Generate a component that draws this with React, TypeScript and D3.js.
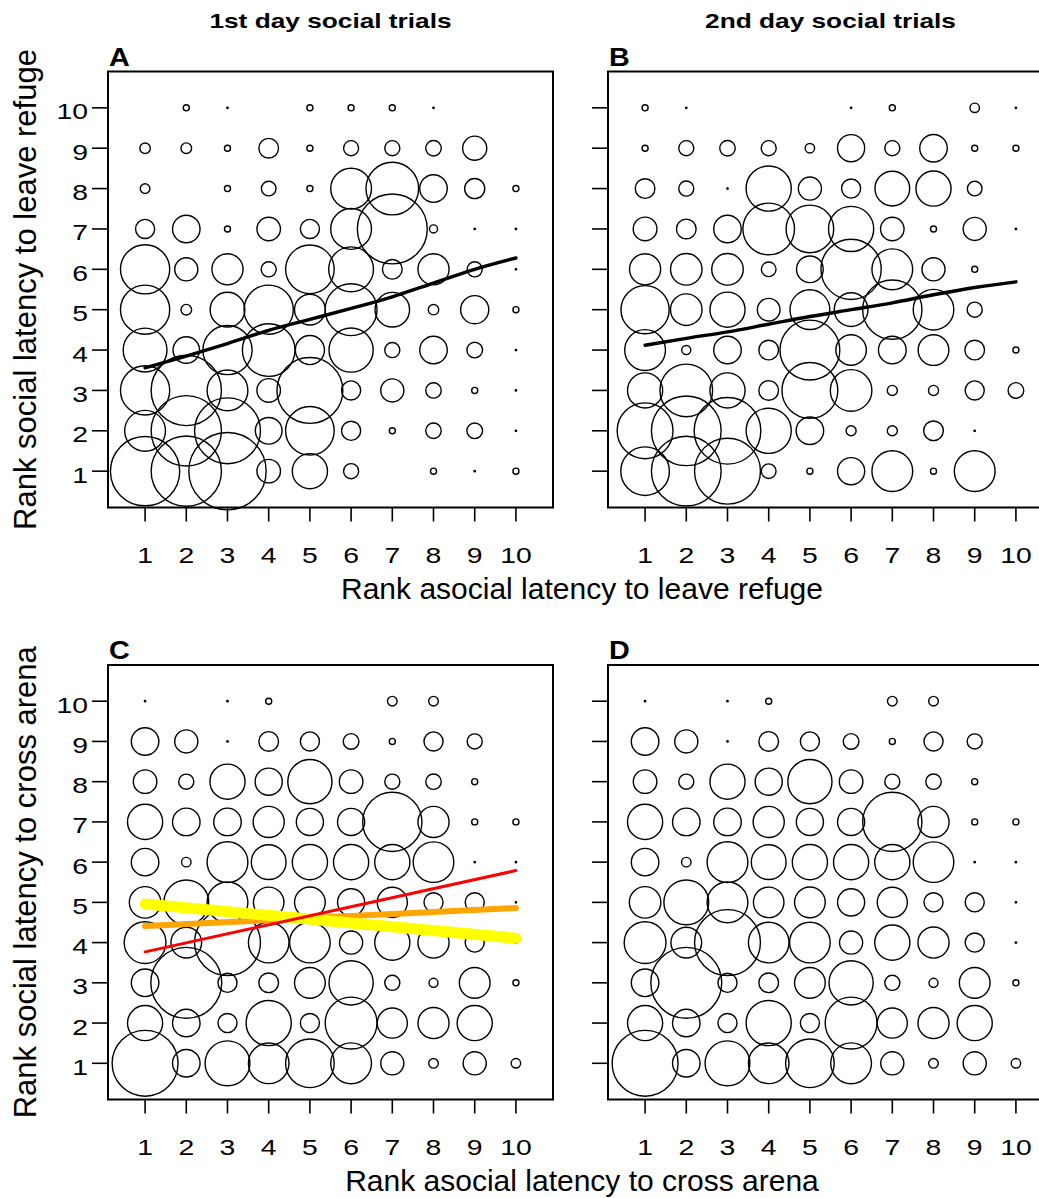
import React from "react";
import * as d3 from "d3";

// ---------- data ----------
const ranks = [1, 2, 3, 4, 5, 6, 7, 8, 9, 10];
const tickLabels = ["1", "2", "3", "4", "5", "6", "7", "8", "9", "10"];

// bubble magnitudes, rows listed from social rank 10 (top) down to 1 (bottom),
// columns asocial rank 1..10 ; 0 = no bubble
const bubblesA = [
  [0, 3.5, 1.2, 0, 3.5, 3.5, 3.5, 1.2, 0, 0],
  [5.7, 5.8, 3.5, 10.3, 3.5, 8, 8, 8.2, 12.5, 0],
  [5.3, 0, 3.5, 7.8, 3.5, 20.8, 26.7, 14.2, 10.5, 3.5],
  [10, 14.2, 3.5, 12.2, 10, 20.8, 35.3, 4.5, 1.2, 1.2],
  [25, 12, 16, 8, 24.7, 22.8, 10.3, 16, 8, 1.2],
  [25, 5.8, 17.8, 25, 15.8, 26.3, 17.7, 5.7, 14.5, 3.5],
  [22.3, 13.7, 25, 26.7, 15, 22.5, 8, 14.2, 8.3, 1.2],
  [25, 35.5, 20.8, 12.2, 33.3, 10, 12, 8.2, 3.5, 1.2],
  [20.8, 35.5, 33.3, 13.8, 24.7, 10, 3.5, 8.2, 8.3, 1.2],
  [35, 35.5, 39, 12.2, 18, 8, 0, 3.5, 1.2, 3.5],
];

const bubblesB = [
  [3.5, 1.2, 0, 0, 0, 1.2, 3.5, 0, 5.2, 1.2],
  [3.5, 8, 8.2, 8, 5.2, 14, 8, 14.2, 3.5, 3.5],
  [10.3, 8, 1.2, 23, 12, 10, 17.8, 18, 7.8, 0],
  [12.3, 10.3, 14.2, 26.2, 24.2, 23, 12.2, 3.5, 12, 1.2],
  [16, 16.2, 16.2, 7.8, 13.8, 30.5, 20.8, 12, 3.5, 0],
  [24.5, 16.2, 18, 11.8, 20.3, 17.3, 30, 20.7, 8, 0],
  [20.8, 5, 14.2, 10.3, 30.3, 15.7, 14.3, 15.8, 10.3, 3.5],
  [18, 26.7, 18, 10.3, 28.3, 21.2, 5.5, 5.5, 10, 8.3],
  [28.3, 35.2, 33.7, 23, 14.2, 5.5, 5.5, 10.3, 1.2, 0],
  [24.7, 35.2, 33.3, 7.8, 3.5, 14, 20.8, 3.5, 20.8, 0],
];

const bubblesCross = [
  [1.2, 0, 1.2, 3.5, 0, 0, 5.3, 5.3, 0, 0],
  [14.2, 12, 1.2, 10.3, 10, 8.3, 3.5, 10, 8, 0],
  [12.2, 8, 18, 14, 22.5, 12.2, 8, 8.2, 3.5, 0],
  [18, 14.2, 14.2, 16, 14, 14, 30, 16, 3.5, 3.5],
  [14.2, 5.2, 20.8, 17.8, 18, 18, 18, 20.7, 1.2, 1.2],
  [16.2, 22.8, 20.8, 15.7, 15.8, 14, 15.5, 10, 10, 1.2],
  [21.3, 15.8, 33.3, 20.7, 20.7, 12, 18, 16, 10, 1.2],
  [14.2, 35.8, 10, 10.3, 15.8, 22.5, 8, 5, 15.8, 3.5],
  [18, 14.2, 10, 23, 10, 26.3, 15.5, 16, 18, 0],
  [33.3, 14.2, 22.8, 20.7, 24.7, 20.8, 12, 5.3, 12, 5.2],
];

// fitted lines (social rank at asocial rank 1..10)
const fitA = [3.56, 3.85, 4.16, 4.49, 4.76, 5.03, 5.32, 5.66, 6.0, 6.28];
const fitB = [4.12, 4.29, 4.45, 4.64, 4.83, 5.0, 5.17, 5.37, 5.55, 5.69];
const fitCx = [1, 10];
const fitCred = [3.77, 5.79];
const fitCorange = [4.41, 4.86];
const fitCyellow = [4.96, 4.11];

const titles = ["1st day social trials", "2nd day social trials"];
const letters = ["A", "B", "C", "D"];
const xLabels = ["Rank asocial latency to leave refuge", "Rank asocial latency to cross arena"];
const yLabels = ["Rank social latency to leave refuge", "Rank social latency to cross arena"];

// ---------- layout ----------
const W = 1039;
const H = 1198;
const colX = [
  [108, 553],
  [608, 1053],
];
const rowY = [
  [507.5, 71.5],
  [1099.5, 665],
];
const domain: [number, number] = [0.1, 10.9];
const FONT = "'Liberation Sans', Arial, Helvetica, sans-serif";

type Fit = { xs: number[]; ys: number[]; color: string; width: number; curve?: boolean };

function Panel({
  col,
  row,
  data,
  fits,
  letter,
  yTickLabels,
}: {
  col: number;
  row: number;
  data: number[][];
  fits: Fit[];
  letter: string;
  yTickLabels: boolean;
}) {
  const x = d3.scaleLinear().domain(domain).range(colX[col]);
  const y = d3.scaleLinear().domain(domain).range(rowY[row]);
  const step = x(2) - x(1);
  const rScale = d3.scaleLinear().domain([0, 40]).range([0, step * 0.975]);
  const [x0, x1] = colX[col];
  const [yb, yt] = rowY[row];

  const cells: { cx: number; cy: number; r: number; key: string }[] = [];
  data.forEach((rowVals, i) => {
    const social = ranks[ranks.length - 1 - i];
    rowVals.forEach((v, j) => {
      if (v > 0) {
        cells.push({ cx: x(ranks[j]), cy: y(social), r: rScale(v), key: `${i}-${j}` });
      }
    });
  });

  return (
    <g>
      {cells.map((c) => (
        <circle
          key={c.key}
          cx={c.cx}
          cy={c.cy}
          r={Math.max(c.r - 0.5, 0.7)}
          fill={c.r < 2 ? "#000" : "none"}
          stroke="#000"
          strokeWidth={1.4}
        />
      ))}
      {fits.map((f, k) => {
        const line = d3
          .line<number>()
          .x((_, i) => x(f.xs[i]))
          .y((d) => y(d))
          .curve(f.curve ? d3.curveMonotoneX : d3.curveLinear);
        return (
          <path
            key={k}
            d={line(f.ys) || ""}
            fill="none"
            stroke={f.color}
            strokeWidth={f.width}
            strokeLinecap="round"
            strokeLinejoin="round"
          />
        );
      })}
      <rect x={x0} y={yt} width={x1 - x0} height={yb - yt} fill="none" stroke="#000" strokeWidth={2} />
      {ranks.map((t, i) => (
        <g key={"xt" + i}>
          <line x1={x(t)} x2={x(t)} y1={yb} y2={yb + 14} stroke="#000" strokeWidth={1.6} />
          <text
            transform={`translate(${x(t)},${yb + 55}) scale(1.32,1)`}
            textAnchor="middle"
            fontFamily={FONT}
            fontSize={21.5}
          >
            {tickLabels[i]}
          </text>
        </g>
      ))}
      {ranks.map((t, i) => (
        <g key={"yt" + i}>
          <line x1={x0 - 16} x2={x0} y1={y(t)} y2={y(t)} stroke="#000" strokeWidth={1.6} />
          {yTickLabels && (
            <text
              transform={`translate(${x0 - 20},${y(t) + 11.5}) scale(1.32,1)`}
              textAnchor="end"
              fontFamily={FONT}
              fontSize={21.5}
            >
              {tickLabels[i]}
            </text>
          )}
        </g>
      ))}
      <text
        transform={`translate(${x0 + 1},${yt - 6}) scale(1.15,1)`}
        fontFamily={FONT}
        fontWeight="bold"
        fontSize={25}
      >
        {letter}
      </text>
    </g>
  );
}

export default function App() {
  const blackFit = (ys: number[]): Fit[] => [{ xs: ranks, ys, color: "#000", width: 3.4, curve: true }];
  const cFits: Fit[] = [
    { xs: fitCx, ys: fitCorange, color: "#FFA500", width: 6 },
    { xs: fitCx, ys: fitCyellow, color: "#FFFF00", width: 11 },
    { xs: fitCx, ys: fitCred, color: "#FF0000", width: 3 },
  ];
  return (
    <svg
      width={W}
      height={H}
      viewBox={`0 0 ${W} ${H}`}
      style={{ position: "absolute", left: 0, top: 0, background: "#fff" }}
    >
      <rect x={0} y={0} width={W} height={H} fill="#fff" />
      {titles.map((t, i) => (
        <text
          key={t}
          transform={`translate(${(colX[i][0] + colX[i][1]) / 2},${28}) scale(1.25,1)`}
          textAnchor="middle"
          fontFamily={FONT}
          fontWeight="bold"
          fontSize={21}
        >
          {t}
        </text>
      ))}
      <Panel col={0} row={0} data={bubblesA} fits={blackFit(fitA)} letter={letters[0]} yTickLabels={true} />
      <Panel col={1} row={0} data={bubblesB} fits={blackFit(fitB)} letter={letters[1]} yTickLabels={false} />
      <Panel col={0} row={1} data={bubblesCross} fits={cFits} letter={letters[2]} yTickLabels={true} />
      <Panel col={1} row={1} data={bubblesCross} fits={[]} letter={letters[3]} yTickLabels={false} />
      {xLabels.map((t, i) => (
        <text
          key={t}
          x={582}
          y={rowY[i][0] + 91}
          textAnchor="middle"
          fontFamily={FONT}
          fontSize={30}
        >
          {t}
        </text>
      ))}
      {yLabels.map((t, i) => (
        <text
          key={t}
          transform={`translate(36,${(rowY[i][0] + rowY[i][1]) / 2}) rotate(-90)`}
          textAnchor="middle"
          fontFamily={FONT}
          fontSize={31}
        >
          {t}
        </text>
      ))}
    </svg>
  );
}
